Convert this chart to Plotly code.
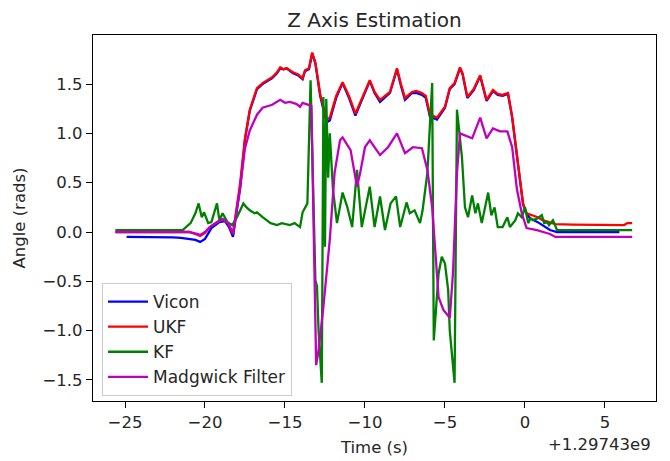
import plotly.graph_objects as go

# ---- data (time relative to offset +1.29743e9 s, angle in rad) ----
ukf_t = [-25.6, -24.0, -22.0, -21.0, -20.6, -20.3, -20.0, -19.7, -19.25, -18.9, -18.56, -18.25,
         -17.8, -17.5, -17.2, -16.75, -16.4, -15.8, -15.5, -15.3, -15.1, -14.9, -14.5, -14.2,
         -13.9, -13.75, -13.5, -13.3, -13.1, -12.8, -12.6, -12.4, -12.2, -11.8, -11.4, -11.0,
         -10.6, -10.2, -9.7, -9.4, -9.06, -8.44, -8.0, -7.75, -7.5, -7.06, -6.8, -6.44, -6.2,
         -5.94, -5.5, -5.0, -4.7, -4.4, -4.06, -3.9, -3.6, -3.2, -2.8, -2.4, -2.0, -1.7, -1.4,
         -1.06, -0.8, -0.44, -0.12, 0.1, 0.4, 0.8, 1.1, 1.5, 1.9, 3.0, 4.0, 5.0, 6.2, 6.4, 6.7]
ukf_v = [0.0, 0.0, 0.0, 0.0, -0.02, -0.04, -0.01, 0.05, 0.10, 0.13, 0.09, -0.02,
         0.50, 0.95, 1.24, 1.46, 1.51, 1.57, 1.62, 1.67, 1.65, 1.66, 1.62, 1.60,
         1.56, 1.64, 1.66, 1.82, 1.72, 1.40, 1.27, 1.14, 1.16, 1.38, 1.52, 1.38,
         1.20, 1.36, 1.54, 1.42, 1.34, 1.42, 1.66, 1.50, 1.36, 1.42, 1.43, 1.41, 1.38,
         1.19, 1.16, 1.27, 1.46, 1.51, 1.67, 1.61, 1.37, 1.45, 1.59, 1.34, 1.44, 1.40, 1.39,
         1.41, 1.17, 0.70, 0.29, 0.19, 0.17, 0.15, 0.12, 0.10, 0.08, 0.075, 0.075, 0.07, 0.07, 0.09, 0.09]

vicon_t = [-24.9, -23.0, -22.0, -21.5, -20.6, -20.3, -20.0, -19.6, -19.1, -18.75, -18.5, -18.25,
           -17.8, -17.5, -17.2, -16.75, -16.4, -15.8, -15.5, -15.3, -15.1, -14.9, -14.5, -14.2,
           -13.9, -13.75, -13.5, -13.3, -13.1, -12.8, -12.6, -12.4, -12.2, -11.8, -11.4, -11.0,
           -10.6, -10.2, -9.7, -9.4, -9.06, -8.44, -8.0, -7.75, -7.5, -7.06, -6.8, -6.44, -6.2,
           -5.94, -5.5, -5.0, -4.7, -4.4, -4.06, -3.9, -3.6, -3.2, -2.8, -2.4, -2.0, -1.7, -1.4,
           -1.06, -0.8, -0.44, -0.12, 0.1, 0.3, 0.8, 1.1, 1.56, 2.0, 4.0, 5.9]
vicon_v = [-0.05, -0.05, -0.055, -0.06, -0.08, -0.10, -0.07, 0.04, 0.10, 0.11, 0.05, -0.05,
           0.45, 0.94, 1.23, 1.45, 1.50, 1.56, 1.61, 1.66, 1.65, 1.66, 1.61, 1.59,
           1.55, 1.63, 1.65, 1.81, 1.71, 1.38, 1.25, 1.11, 1.13, 1.36, 1.51, 1.36,
           1.18, 1.34, 1.53, 1.41, 1.32, 1.41, 1.65, 1.48, 1.34, 1.41, 1.41, 1.39, 1.36,
           1.17, 1.14, 1.26, 1.45, 1.50, 1.66, 1.60, 1.36, 1.44, 1.58, 1.33, 1.43, 1.39, 1.38,
           1.40, 1.16, 0.69, 0.28, 0.19, 0.14, 0.10, 0.07, 0.02, 0.0, 0.0, 0.0]

kf_t = [-25.6, -23.0, -21.4, -20.9, -20.6, -20.4, -20.2, -20.06, -19.8, -19.6, -19.25, -19.1,
        -18.9, -18.6, -18.3, -18.0, -17.6, -17.4, -17.2, -16.9, -16.75, -16.4, -15.9, -15.5,
        -15.2, -14.7, -14.4, -14.06, -13.9, -13.6, -13.4, -13.1, -13.0, -12.9, -12.7, -12.6,
        -12.5, -12.42, -12.3, -12.2, -12.0, -11.75, -11.4, -11.1, -10.8, -10.5, -10.2, -9.7,
        -9.4, -9.06, -8.75, -8.4, -8.06, -7.8, -7.4, -7.2, -6.9, -6.56, -6.4, -6.1, -5.8,
        -5.7, -5.4, -5.2, -5.0, -4.8, -4.7, -4.4, -4.25, -3.94, -3.75, -3.56, -3.3, -3.1,
        -2.94, -2.7, -2.3, -2.1, -1.9, -1.7, -1.4, -1.1, -0.94, -0.6, -0.44, -0.2, 0.0,
        0.2, 0.35, 0.5, 0.8, 1.05, 1.2, 1.4, 1.5, 1.75, 1.9, 2.0, 4.0, 6.7]
kf_v = [0.02, 0.02, 0.02, 0.09, 0.19, 0.29, 0.15, 0.20, 0.09, 0.10, 0.29, 0.12,
        0.19, 0.10, 0.07, 0.15, 0.29, 0.25, 0.22, 0.19, 0.20, 0.15, 0.09, 0.07,
        0.09, 0.07, 0.09, 0.05, 0.20, 0.29, 1.54, -0.49, -0.55, -1.00, -1.53, 1.37,
        -0.15, 1.35, 0.55, 1.00, 0.43, 0.09, 0.40, 0.25, 0.05, 0.63, 0.05, 0.46,
        0.05, 0.36, 0.02, 0.29, 0.36, 0.05, 0.30, 0.19, 0.22, 0.09, 0.22, 0.60, 1.51,
        -1.10, -0.42, -0.25, -0.32, -0.59, -1.00, -1.53, 1.24, 0.76, 0.25, 0.15, 0.37, 0.19,
        0.29, 0.09, 0.40, 0.17, 0.25, 0.05, 0.05, 0.15, 0.05, 0.12, 0.19, 0.15, 0.25,
        0.09, 0.14, 0.12, 0.14, 0.17, 0.09, 0.10, 0.07, 0.12, 0.05, 0.02, 0.02, 0.02]

mad_t = [-25.6, -23.0, -21.0, -20.5, -20.3, -20.0, -19.7, -19.25, -18.9, -18.56, -18.25, -17.8,
         -17.5, -17.2, -16.75, -16.4, -15.8, -15.3, -15.0, -14.7, -14.3, -14.06, -13.9, -13.35,
         -13.05, -12.9, -12.6, -12.2, -11.9, -11.56, -11.4, -10.9, -10.5, -10.3, -10.0, -9.7,
         -9.06, -8.56, -8.0, -7.5, -7.0, -6.44, -6.1, -5.8, -5.6, -5.4, -5.1, -4.7, -4.5, -4.25,
         -4.06, -3.75, -3.3, -2.8, -2.4, -2.0, -1.56, -1.1, -0.8, -0.5, -0.2, 0.1, 0.75, 1.35,
         1.56, 1.9, 4.0, 6.7]
mad_v = [0.0, 0.0, 0.0, -0.02, -0.03, 0.0, 0.05, 0.10, 0.13, 0.09, -0.01, 0.45,
         0.85, 1.03, 1.19, 1.26, 1.29, 1.34, 1.31, 1.32, 1.30, 1.27, 1.31, 1.28,
         -1.35, -1.20, -0.76, -0.08, 0.60, 0.93, 0.96, 0.83, 0.46, 0.60, 0.86, 0.93,
         0.78, 0.86, 1.00, 0.80, 0.86, 0.85, 0.63, 0.25, -0.25, -0.66, -0.79, -0.87, -0.42, 0.60,
         1.00, 0.98, 0.95, 1.16, 0.95, 1.05, 1.02, 1.02, 0.86, 0.43, 0.19, 0.04, 0.02, -0.01,
         -0.02, -0.05, -0.05, -0.05]

series = [
    ("Vicon", vicon_t, vicon_v, "#0000ff"),
    ("UKF", ukf_t, ukf_v, "#ff0000"),
    ("KF", kf_t, kf_v, "#008000"),
    ("Madgwick Filter", mad_t, mad_v, "#bf00bf"),
]

FONT = "DejaVu Sans"
FS = 16.5
TXT = "#262626"
fig = go.Figure()
for i, (name, t, v, c) in enumerate(series):
    fig.add_trace(go.Scatter(x=t, y=v, mode="lines", name=name, legendgroup=str(i),
                             line=dict(color=c, width=2.3)))

axis_common = dict(showline=True, linecolor="black", linewidth=1.2, mirror=True,
                   ticks="outside", ticklen=6, tickwidth=1.2, tickcolor="black",
                   showgrid=False, zeroline=False, automargin=False,
                   tickfont=dict(family=FONT, size=FS, color=TXT))

fig.update_layout(
    width=670, height=461,
    margin=dict(l=93, r=14, t=35, b=60),
    paper_bgcolor="white", plot_bgcolor="white",
    font=dict(family=FONT, size=FS, color=TXT),
    title=dict(text="Z Axis Estimation", x=0.5, xref="paper", xanchor="center",
               y=1 - 20 / 461, yref="container", yanchor="middle",
               font=dict(family=FONT, size=20, color=TXT)),
    xaxis=dict(range=[-27.0, 8.19], tickmode="array", tickvals=[-25, -20, -15, -10, -5, 0, 5],
               title=dict(text="Time (s)", standoff=10, font=dict(family=FONT, size=FS)),
               **axis_common),
    yaxis=dict(range=[-1.714, 1.998], tickmode="array",
               tickvals=[-1.5, -1.0, -0.5, 0.0, 0.5, 1.0, 1.5], tickformat=".1f",
               title=dict(text="Angle (rads)", standoff=12, font=dict(family=FONT, size=FS)),
               **axis_common),
    legend=dict(x=0.016, y=0.0137, xanchor="left", yanchor="bottom",
                bgcolor="rgba(255,255,255,0.8)", bordercolor="#cccccc", borderwidth=1,
                font=dict(family=FONT, size=17, color=TXT),
                traceorder="grouped", tracegroupgap=0, itemwidth=40),
    showlegend=True,
)

fig.add_annotation(text="+1.29743e9", xref="paper", yref="paper", x=0.9947, y=-0.120,
                   xanchor="right", yanchor="middle", showarrow=False,
                   font=dict(family=FONT, size=FS, color=TXT))

fig.write_html("out.html")
